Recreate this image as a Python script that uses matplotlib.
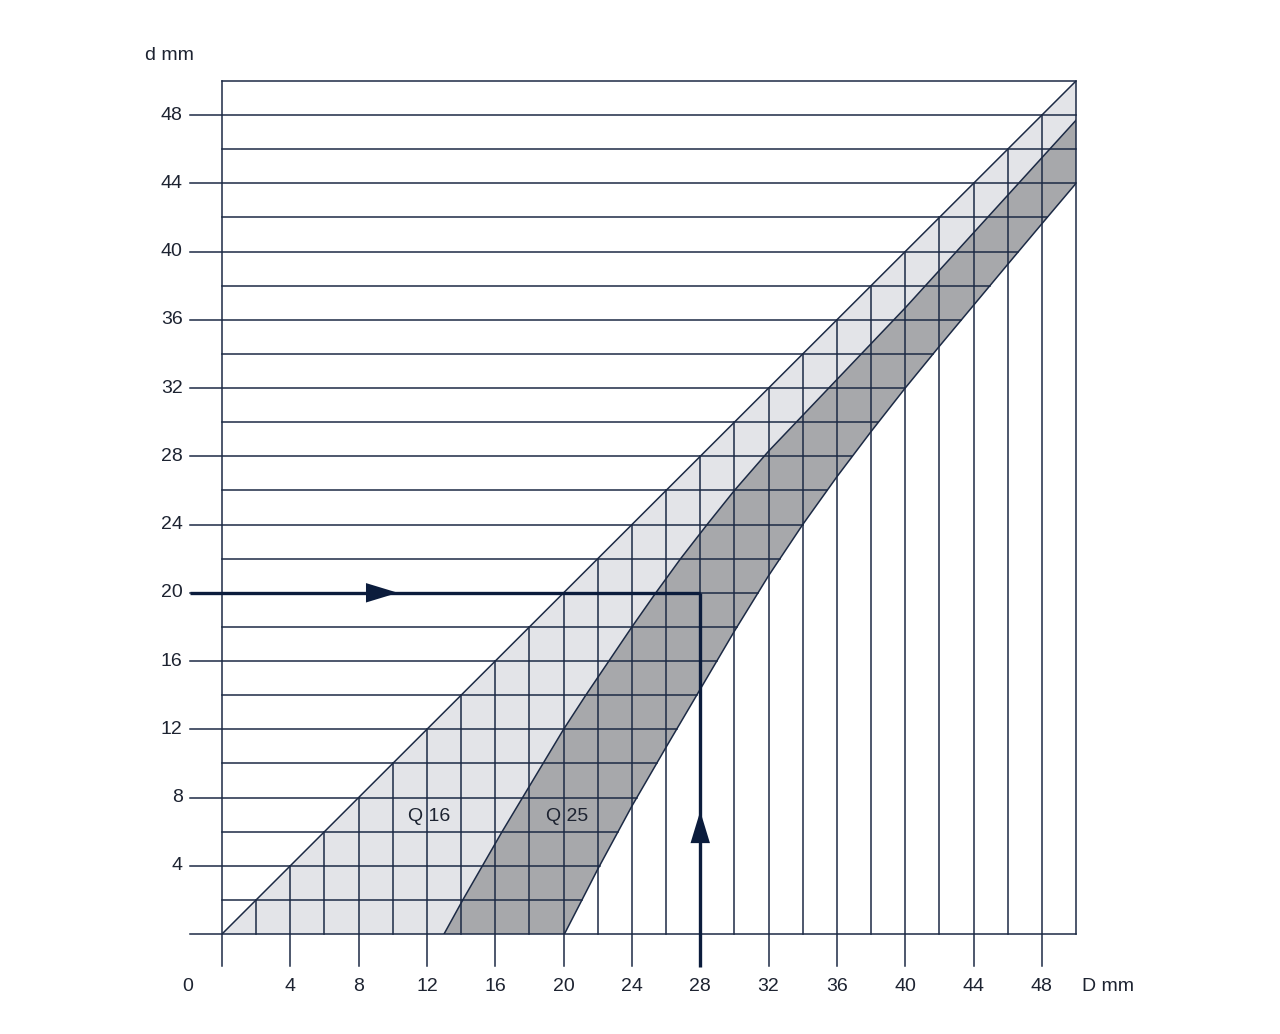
import numpy as np
import matplotlib
matplotlib.use("Agg")
import matplotlib.pyplot as plt

plt.rcParams['font.family'] = ['Liberation Sans', 'DejaVu Sans']

# band boundaries (D mm -> d mm)
upper_D = [0, 50]
upper_d = [0, 50]

mid_D = [13.0, 14.1, 15.25, 16.4, 17.6, 18.8, 20.0, 21.3, 22.65, 24.0, 25.4, 26.85,
         28.4, 30.0, 32.0, 34.0, 36.0, 38.0, 40.0, 42.0, 44.0, 46.0, 48.0, 50.0]
mid_d = [0, 2, 4, 6, 8, 10, 12, 14, 16, 18, 20, 22,
         24, 26, 28.3, 30.4, 32.5, 34.6, 36.7, 38.9, 41.1, 43.3, 45.5, 47.7]

low_D = [20.05, 22.0, 24.0, 26.0, 28.0, 30.0, 32.0, 34.0, 36.0, 38.0, 40.0, 42.0,
         44.0, 46.0, 48.0, 50.0]
low_d = [0, 3.8, 7.5, 10.95, 14.35, 17.75, 21.0, 24.0, 26.8, 29.45, 32.0, 34.45,
         36.85, 39.25, 41.63, 44.0]

ticks = [4, 8, 12, 16, 20, 24, 28, 32, 36, 40, 44, 48]
grid_step = 2
axis_max = 50

# worked example shown with arrows
example_d = 20
example_D = 28

band_labels = ["Q 16", "Q 25"]
band_label_pos = [(12.1, 6.9), (20.2, 6.9)]

line_c = '#1c2a45'
arrow_c = '#0b1c3c'
text_c = '#1d2331'
light_c = '#e3e4e8'
dark_c = '#a7a8ab'

fig = plt.figure(figsize=(12.8, 10.34), dpi=100)
ax = fig.add_axes([222/1280, 100/1034, 854/1280, 853/1034])
ax.set_xlim(0, axis_max)
ax.set_ylim(0, axis_max)
ax.axis('off')

lw = 1.1
ext = 1.85  # tick extension outside the frame

# shaded bands
light_x = [0, 50] + [50] + mid_D[::-1]
light_y = [0, 50] + [mid_d[-1]] + mid_d[::-1]
ax.fill(light_x, light_y, color=light_c, lw=0, zorder=1)
dark_x = mid_D + low_D[::-1]
dark_y = mid_d + low_d[::-1]
ax.fill(dark_x, dark_y, color=dark_c, lw=0, zorder=1)

# vertical grid lines: up to the d = D line
for D in np.arange(grid_step, axis_max, grid_step):
    y0 = -ext if D % 4 == 0 else 0
    ax.plot([D, D], [y0, min(D, axis_max)], color=line_c, lw=lw, zorder=2, clip_on=False)

# horizontal grid lines: out to the lower band edge
for d in np.arange(grid_step, axis_max, grid_step):
    x0 = -ext if d % 4 == 0 else 0
    x1 = np.interp(d, low_d, low_D) if d < low_d[-1] else axis_max
    ax.plot([x0, x1], [d, d], color=line_c, lw=lw, zorder=2, clip_on=False)

# frame
ax.plot([-ext, axis_max], [0, 0], color=line_c, lw=lw, zorder=2, clip_on=False)
ax.plot([0, 0], [-ext, axis_max], color=line_c, lw=lw, zorder=2, clip_on=False)
ax.plot([0, axis_max], [axis_max, axis_max], color=line_c, lw=lw, zorder=2, clip_on=False)
ax.plot([axis_max, axis_max], [0, axis_max], color=line_c, lw=lw, zorder=2, clip_on=False)

# band edges
ax.plot(upper_D, upper_d, color=line_c, lw=lw, zorder=3)
ax.plot(mid_D, mid_d, color=line_c, lw=lw, zorder=3)
ax.plot(low_D, low_d, color=line_c, lw=lw, zorder=3)

# example path
ax.plot([-ext, example_D], [example_d, example_d], color=arrow_c, lw=2.4, zorder=4,
        clip_on=False, solid_capstyle='butt')
ax.plot([example_D, example_D], [-ext - 0.1, example_d], color=arrow_c, lw=2.4, zorder=4,
        clip_on=False, solid_capstyle='butt')
head = dict(arrowstyle='-|>,head_length=23,head_width=7', mutation_scale=1,
            fc=arrow_c, ec=arrow_c, lw=0, shrinkA=0, shrinkB=0)
ax.annotate('', xy=(10.3, example_d), xytext=(8.4, example_d), arrowprops=head, zorder=5)
ax.annotate('', xy=(example_D, 7.2), xytext=(example_D, 5.4), arrowprops=head, zorder=5)

# tick labels
fs = 14
for t in ticks:
    ax.text(t, -3.05, str(t), ha='center', va='center', fontsize=fs, color=text_c)
    ax.text(-2.3, t, str(t), ha='right', va='center', fontsize=fs, color=text_c)
ax.text(-2.0, -3.05, "0", ha='center', va='center', fontsize=fs, color=text_c)
ax.text(-3.05, 51.5, "d mm", ha='center', va='center', fontsize=fs, color=text_c)
ax.text(51.9, -3.05, "D mm", ha='center', va='center', fontsize=fs, color=text_c)

for lab, (x, y) in zip(band_labels, band_label_pos):
    ax.text(x, y, lab, ha='center', va='center', fontsize=fs, color=text_c, zorder=6)

fig.savefig("out.png", dpi=100, facecolor='white')
